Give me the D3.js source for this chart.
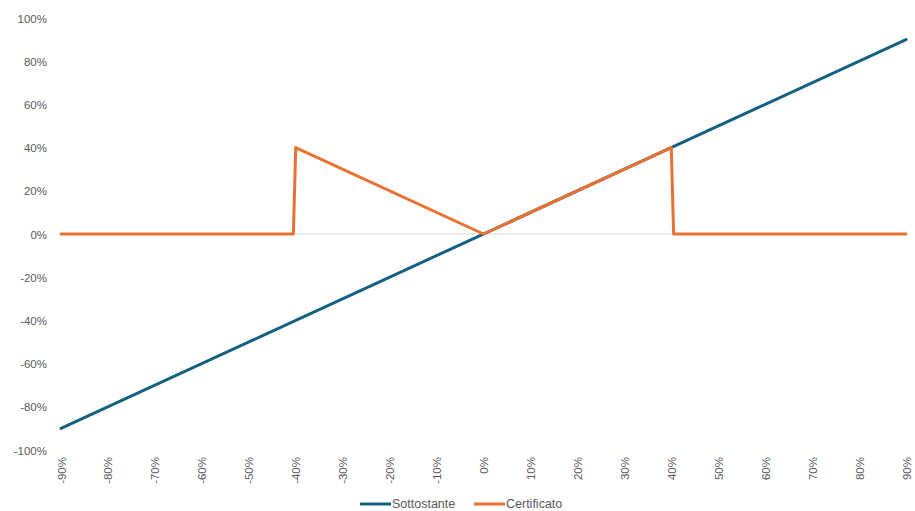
<!DOCTYPE html>
<html>
<head>
<meta charset="utf-8">
<script src="https://cdn.jsdelivr.net/npm/d3@7"></script>
<style>
  html, body { margin: 0; padding: 0; background: #fff; }
  svg { display: block; }
  text { font-family: "Liberation Sans", Arial, sans-serif; fill: #595959; }
</style>
</head>
<body>
<svg id="chart" width="915" height="511"></svg>
<script>
// Performance at maturity vs. underlying change (%)
const xTicks = [-90, -80, -70, -60, -50, -40, -30, -20, -10, 0, 10, 20, 30, 40, 50, 60, 70, 80, 90];
const yTicks = [-100, -80, -60, -40, -20, 0, 20, 40, 60, 80, 100];

// Sottostante: breakpoints of the underlying's return
const sottostanteX = [-90, 90];
const sottostanteY = [-90, 90];

// Certificato: breakpoints of the certificate's payoff
const certificatoX = [-90, -40.5, -40, 0, 40, 40.5, 90];
const certificatoY = [0, 0, 40, 0, 40, 0, 0];

const seriesNames = ["Sottostante", "Certificato"];
const colors = { Sottostante: "#156082", Certificato: "#E97132" };

const svg = d3.select("#chart");
const x = d3.scaleLinear().domain([-90, 90]).range([61, 906]);
const y = d3.scaleLinear().domain([-100, 100]).range([450, 18]);

// y axis labels
const yAxis = d3.axisLeft(y).tickValues(yTicks).tickSize(0).tickPadding(0)
  .tickFormat(d => d + "%");
svg.append("g").attr("transform", "translate(47,0)").call(yAxis)
  .call(g => g.select(".domain").remove())
  .call(g => g.selectAll("text").attr("font-size", 11.5).attr("fill", "#595959")
    .attr("dy", "0.35em").attr("font-family", "Liberation Sans, Arial, sans-serif"));

// zero line
svg.append("line")
  .attr("x1", x(-90)).attr("x2", x(90))
  .attr("y1", y(0)).attr("y2", y(0))
  .attr("stroke", "#d9d9d9").attr("stroke-width", 1);

// x axis labels, rotated
const xAxis = d3.axisBottom(x).tickValues(xTicks).tickSize(0).tickPadding(0)
  .tickFormat(d => d + "%");
svg.append("g").attr("transform", "translate(0,457)").call(xAxis)
  .call(g => g.select(".domain").remove())
  .call(g => g.selectAll("text")
    .attr("font-size", 11.5).attr("fill", "#595959")
    .attr("font-family", "Liberation Sans, Arial, sans-serif")
    .attr("text-anchor", "end")
    .attr("transform", "rotate(-90)")
    .attr("x", 0).attr("y", 0).attr("dy", "0.35em"));

const line = d3.line().x(d => x(d[0])).y(d => y(d[1]));

svg.append("path")
  .datum(d3.zip(sottostanteX, sottostanteY))
  .attr("d", line).attr("fill", "none")
  .attr("stroke", colors.Sottostante).attr("stroke-width", 3)
  .attr("stroke-linejoin", "round").attr("stroke-linecap", "round");

svg.append("path")
  .datum(d3.zip(certificatoX, certificatoY))
  .attr("d", line).attr("fill", "none")
  .attr("stroke", colors.Certificato).attr("stroke-width", 3)
  .attr("stroke-linejoin", "round").attr("stroke-linecap", "round");

// legend
const legendItems = [
  { name: seriesNames[0], x0: 360 },
  { name: seriesNames[1], x0: 474 }
];
const lg = svg.append("g");
legendItems.forEach(it => {
  lg.append("line").attr("x1", it.x0).attr("x2", it.x0 + 31)
    .attr("y1", 504).attr("y2", 504)
    .attr("stroke", colors[it.name]).attr("stroke-width", 3);
  lg.append("text").attr("x", it.x0 + 32).attr("y", 504).attr("dy", "0.32em")
    .attr("font-size", 12.5).text(it.name);
});
</script>
</body>
</html>
